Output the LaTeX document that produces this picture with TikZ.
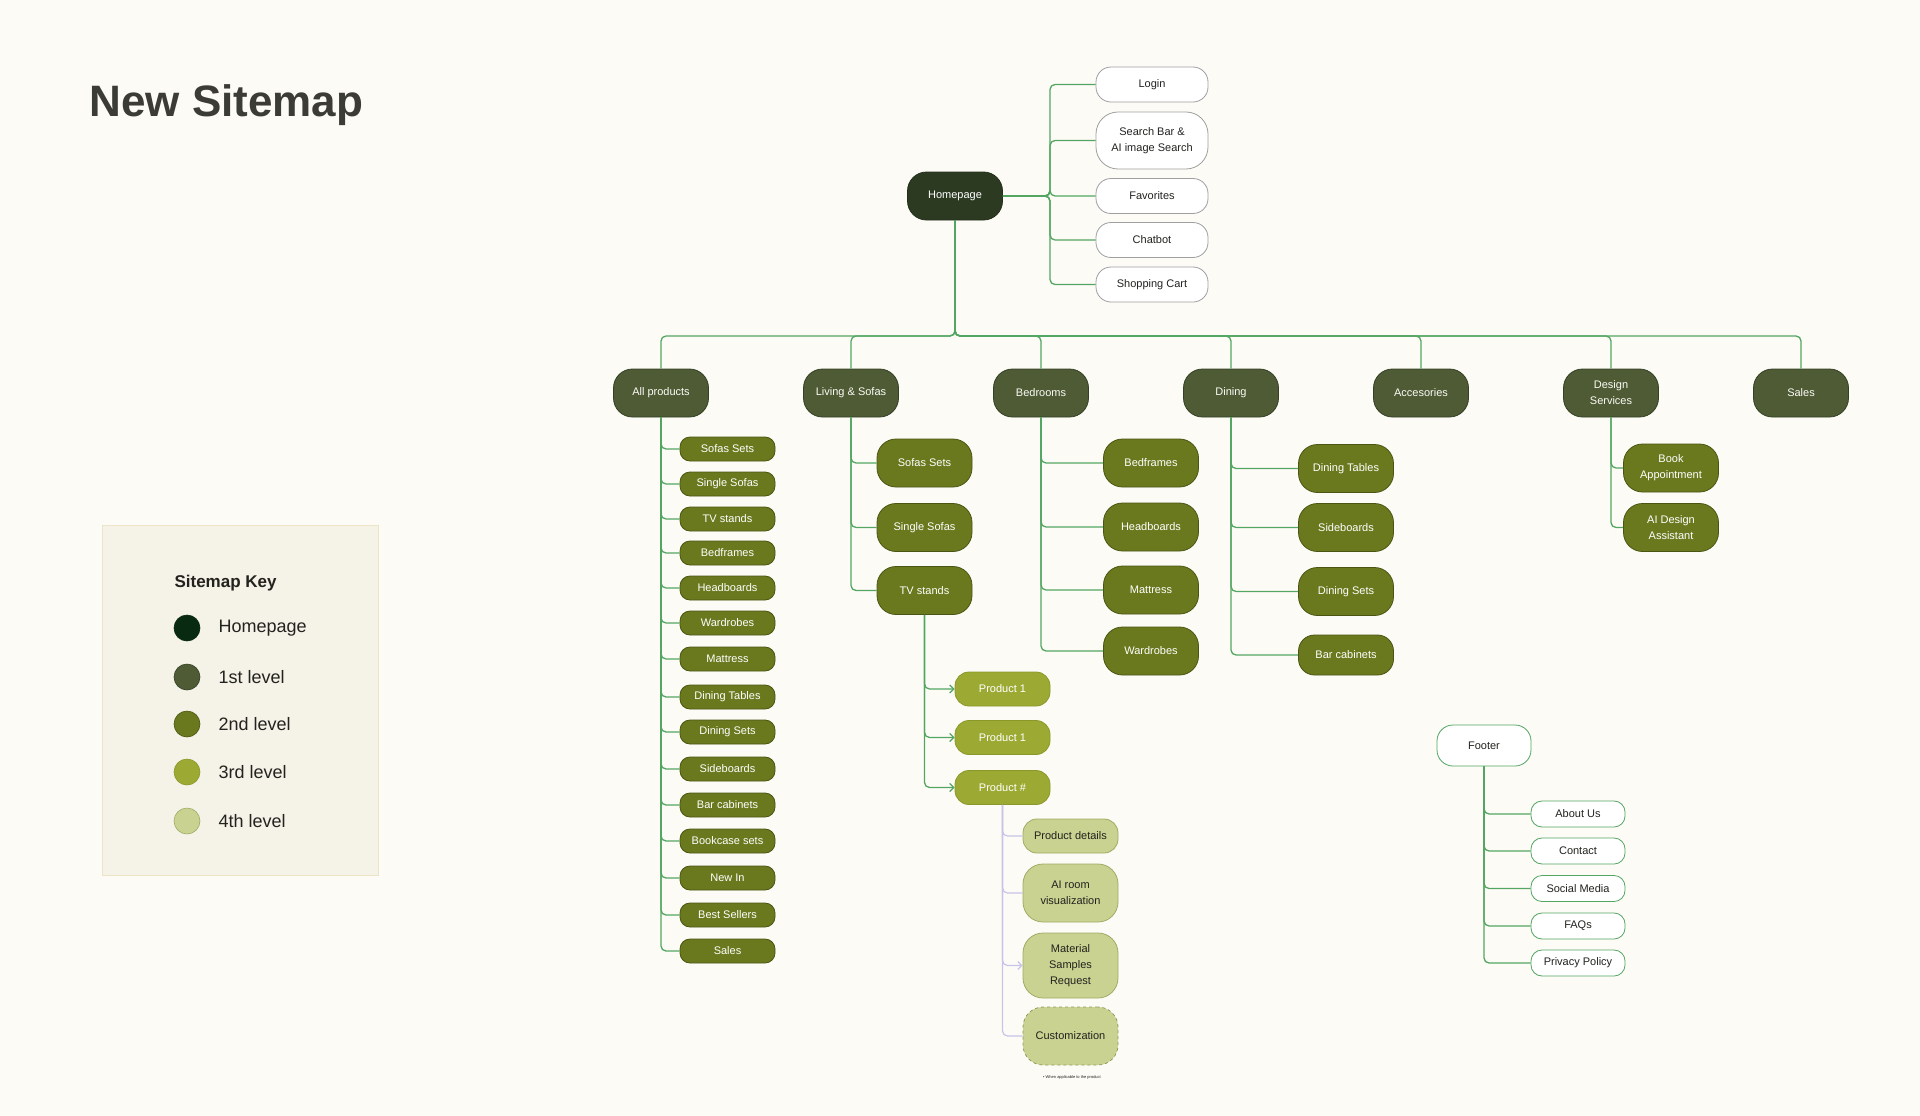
\documentclass[tikz,border=0pt]{standalone}
\usepackage{fontspec}
\setmainfont{Liberation Sans}
\usepackage{xcolor}
\usepackage{tikz}
\usetikzlibrary{arrows.meta, positioning, calc}

\definecolor{pagebg}{RGB}{253,251,246}
\definecolor{homefill}{RGB}{45,58,34}
\definecolor{homekey}{RGB}{8,42,16}
\definecolor{onefill}{RGB}{78,91,53}
\definecolor{oneline}{RGB}{52,64,38}
\definecolor{twofill}{RGB}{107,121,30}
\definecolor{twoline}{RGB}{74,85,18}
\definecolor{threefill}{RGB}{156,170,51}
\definecolor{threeline}{RGB}{138,152,42}
\definecolor{fourfill}{RGB}{201,210,145}
\definecolor{fourline}{RGB}{160,172,100}
\definecolor{linkgreen}{RGB}{82,166,98}
\definecolor{linklilac}{RGB}{200,196,232}
\definecolor{keyfill}{RGB}{245,242,232}
\definecolor{keyline}{RGB}{236,228,196}
\definecolor{inkdark}{RGB}{34,34,30}
\definecolor{titlegrey}{RGB}{60,60,54}

\tikzstyle{link} = [draw=linkgreen, line width=1.3pt, rounded corners=5pt]
\tikzstyle{sublink} = [draw=linklilac, line width=1.2pt, rounded corners=5pt]

\begin{document}
\begin{tikzpicture}[
    x=1pt, y=-1pt,
    base/.style={rectangle, rounded corners=19pt, minimum width=95pt, minimum height=48pt, inner sep=2pt, align=center, font=\fontsize{11}{16}\selectfont, line width=0.8pt},
    home/.style={base, fill=homefill, draw=homefill!80!black, text=white},
    lvone/.style={base, fill=onefill, draw=oneline, text=pagebg},
    lvtwo/.style={base, fill=twofill, draw=twoline, text=white},
    lvtwosmall/.style={lvtwo, minimum height=24pt, rounded corners=10pt},
    lvthree/.style={base, fill=threefill, draw=threeline, text=white, minimum height=34pt, rounded corners=14pt},
    lvfour/.style={base, fill=fourfill, draw=fourline, text=inkdark},
    topbox/.style={base, fill=white, draw=gray!75, text=inkdark, minimum width=112pt, minimum height=35pt, rounded corners=15pt},
    footbox/.style={base, fill=white, draw=linkgreen, text=inkdark, minimum width=94pt, minimum height=26pt, rounded corners=11pt},
    keydot/.style={circle, minimum size=26pt, inner sep=0pt, line width=0.6pt},
    keytext/.style={anchor=west, text=inkdark, font=\fontsize{18}{20}\selectfont},
    >={Straight Barb[length=4pt,width=8pt]}
]
\fill[pagebg] (0,0) rectangle (1920,1116);
\useasboundingbox (0,0) rectangle (1920,1116);

% title and key
\node[anchor=base west, text=titlegrey, font=\fontsize{44}{48}\selectfont\bfseries] (title) at (86,117) {New Sitemap};
\draw[fill=keyfill, draw=keyline, line width=0.8pt] (102,525) rectangle (378,875);
\node[anchor=base west, text=inkdark, font=\fontsize{17}{20}\selectfont\bfseries] (keyhead) at (171,587) {Sitemap Key};
\node[keydot, fill=homekey, draw=homekey] (k0) at (187,628) {};
\node[keydot, fill=onefill, draw=oneline] (k1) at (187,677) {};
\node[keydot, fill=twofill, draw=twoline] (k2) at (187,724) {};
\node[keydot, fill=threefill, draw=threeline] (k3) at (187,772) {};
\node[keydot, fill=fourfill, draw=fourline] (k4) at (187,821) {};
\node[keytext] at (215,628) {Homepage};
\node[keytext] at (215,677) {1st level};
\node[keytext] at (215,724) {2nd level};
\node[keytext] at (215,772) {3rd level};
\node[keytext] at (215,821) {4th level};

% homepage and top bar
\node[home] (home) at (955,196) {Homepage};
\node[topbox] (login) at (1152,84.5) {Login};
\node[topbox, minimum height=57pt, rounded corners=22pt] (search) at (1152,140.5) {Search Bar \&\\AI image Search};
\node[topbox] (fav) at (1152,196) {Favorites};
\node[topbox] (chat) at (1152,240) {Chatbot};
\node[topbox] (cart) at (1152,284.5) {Shopping Cart};
\coordinate (tbus) at (1050,196);
\foreach \t in {login,search,fav,chat,cart}
    \draw[link] (home.east) -- (tbus) |- (\t.west);

% first level
\node[lvone] (allp) at (661,393) {All products};
\node[lvone] (liv) at (851,393) {Living \& Sofas};
\node[lvone] (bed) at (1041,393) {Bedrooms};
\node[lvone] (din) at (1231,393) {Dining};
\node[lvone] (acc) at (1421,393) {Accesories};
\node[lvone] (des) at (1611,393) {Design\\Services};
\node[lvone] (sal) at (1801,393) {Sales};
\coordinate (mbus) at (955,336);
\foreach \t in {allp,liv,bed,din,acc,des,sal}
    \draw[link] (home.south) -- (mbus) -| (\t.north);

% all products list
\foreach \nm/\yy [count=\i] in {Sofas Sets/449, Single Sofas/484, TV stands/519, Bedframes/553, Headboards/588, Wardrobes/623, Mattress/659, Dining Tables/697, Dining Sets/732, Sideboards/769, Bar cabinets/805, Bookcase sets/841, New In/878, Best Sellers/915, Sales/951} {
    \node[lvtwosmall] (ap\i) at (727.5,\yy) {\nm};
    \draw[link] (allp.south) |- (ap\i.west);
}

% living & sofas
\node[lvtwo] (lv1) at (924.5,463) {Sofas Sets};
\node[lvtwo] (lv2) at (924.5,527.5) {Single Sofas};
\node[lvtwo] (lv3) at (924.5,590.5) {TV stands};
\foreach \t in {lv1,lv2,lv3}
    \draw[link] (liv.south) |- (\t.west);

% products
\node[lvthree] (pr1) at (1002.5,689) {Product 1};
\node[lvthree] (pr2) at (1002.5,737.5) {Product 1};
\node[lvthree] (prn) at (1002.5,787.5) {Product \#};
\foreach \t in {pr1,pr2,prn}
    \draw[link, ->] (lv3.south) |- (\t.west);

% product page
\node[lvfour, minimum height=34pt, rounded corners=14pt] (pd) at (1070.5,836) {Product details};
\node[lvfour, minimum height=58pt, rounded corners=20pt] (air) at (1070.5,893) {AI room\\visualization};
\node[lvfour, minimum height=65pt, rounded corners=20pt] (msr) at (1070.5,965.5) {Material\\Samples\\Request};
\node[lvfour, minimum height=58pt, rounded corners=20pt, dashed, draw=fourline!90!black] (cus) at (1070.5,1036) {Customization};
\node[text=inkdark, font=\fontsize{4}{5}\selectfont] (note) at (1072,1077) {\textbullet\ When applicable to the product};
\foreach \t in {pd,air,cus}
    \draw[sublink] (prn.south) |- (\t.west);
\draw[sublink, ->] (prn.south) |- (msr.west);

% bedrooms
\node[lvtwo] (bd1) at (1151,463) {Bedframes};
\node[lvtwo] (bd2) at (1151,527) {Headboards};
\node[lvtwo] (bd3) at (1151,590) {Mattress};
\node[lvtwo] (bd4) at (1151,651) {Wardrobes};
\foreach \t in {bd1,bd2,bd3,bd4}
    \draw[link] (bed.south) |- (\t.west);

% dining
\node[lvtwo] (dn1) at (1346,468.5) {Dining Tables};
\node[lvtwo] (dn2) at (1346,527.5) {Sideboards};
\node[lvtwo] (dn3) at (1346,591.5) {Dining Sets};
\node[lvtwo, minimum height=40pt, rounded corners=16pt] (dn4) at (1346,655) {Bar cabinets};
\foreach \t in {dn1,dn2,dn3,dn4}
    \draw[link] (din.south) |- (\t.west);

% design services
\node[lvtwo] (ds1) at (1671,468) {Book\\Appointment};
\node[lvtwo] (ds2) at (1671,527.5) {AI Design\\Assistant};
\foreach \t in {ds1,ds2}
    \draw[link] (des.south) |- (\t.west);

% footer
\node[footbox, minimum height=41pt, rounded corners=16pt] (foot) at (1484,745.5) {Footer};
\node[footbox] (ft1) at (1578,814) {About Us};
\node[footbox] (ft2) at (1578,851) {Contact};
\node[footbox] (ft3) at (1578,888.5) {Social Media};
\node[footbox] (ft4) at (1578,926) {FAQs};
\node[footbox] (ft5) at (1578,963) {Privacy Policy};
\foreach \t in {ft1,ft2,ft3,ft4,ft5}
    \draw[link] (foot.south) |- (\t.west);
\end{tikzpicture}
\end{document}
